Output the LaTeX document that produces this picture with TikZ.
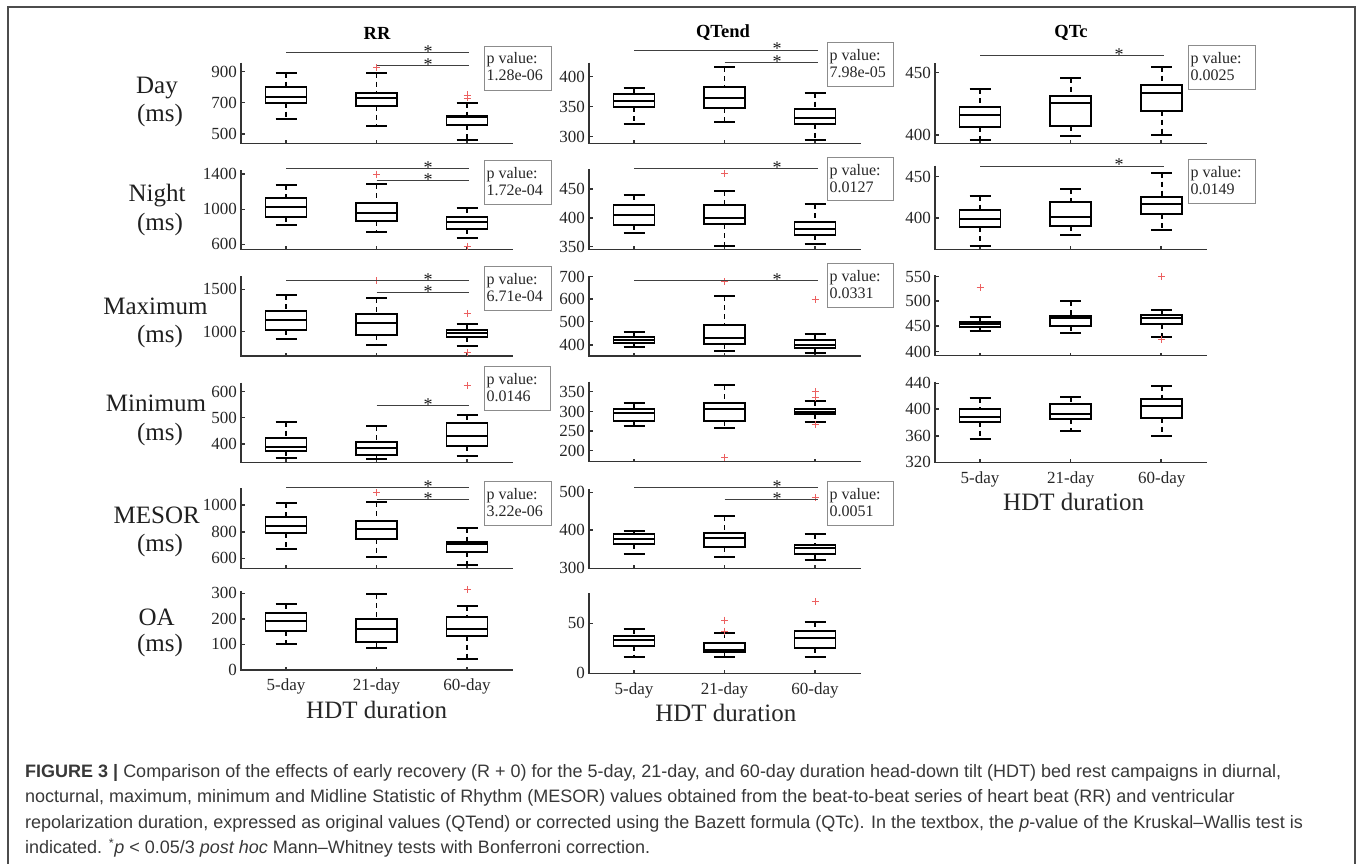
\documentclass[tikz,border=0pt]{standalone}
\usepackage{fontspec}
\setmainfont{Liberation Serif}
\newfontfamily\capfont{Liberation Sans}
\definecolor{outc}{RGB}{236,96,96}
\newcommand\bplot[6]{%
  \draw[whisk] (#1,#2) -- (#1,#3) (#1,#5) -- (#1,#6);
  \draw[capst] (#1-10.5,#2) -- (#1+10.5,#2) (#1-10.5,#6) -- (#1+10.5,#6);
  \draw[boxst] (#1-20.5,#3) rectangle (#1+20.5,#5);
  \draw[boxst] (#1-20.5,#4) -- (#1+20.5,#4);}
\newcommand\olr[2]{\draw[outl] (#1-3.5,#2) -- (#1+3.5,#2) (#1,#2-3.5) -- (#1,#2+3.5);}
\newcommand\yaxis[3]{% x0, ytop, ybot
  \draw[axisst] (#1,#2) -- (#1,#3) -- (#1+272,#3);
  \draw[axisst] (#1+45,#3) -- (#1+45,#3-3) (#1+135.5,#3) -- (#1+135.5,#3-3) (#1+226,#3) -- (#1+226,#3-3);}
\newcommand\ytk[3]{% x0, y, label
  \draw[axisst] (#1,#2) -- (#1+3.5,#2);
  \node[tick, anchor=east] at (#1-4,#2) {#3};}
\newcommand\pvbox[5]{% xl, width, top, bottom, value
  \draw[pb] (#1,#3) rectangle (#1+#2,#4);
  \node[ptxt, anchor=base west] at (#1+2,#3+18) {p value:};
  \node[ptxt, anchor=base west] at (#1+2,#3+35) {#5};}
\newcommand\sigbar[4]{% xs, xe, y, starx
  \draw[sigl] (#1,#3) -- (#2,#3);
  \node[starst, anchor=base] at (#4,#3+5) {*};}
\begin{document}
\begin{tikzpicture}[x=1pt,y=-1pt,
  axisst/.style={draw=black!80, line width=1.4pt},
  boxst/.style={draw=black, line width=1.7pt},
  capst/.style={draw=black, line width=1.7pt},
  whisk/.style={draw=black, line width=1.7pt, dash pattern=on 5pt off 4pt},
  outl/.style={draw=outc, line width=0.9pt},
  sigl/.style={draw=black!75, line width=0.9pt},
  pb/.style={draw=black!45, line width=0.9pt},
  tick/.style={font=\fontsize{17}{17}\selectfont, text=black!85, inner sep=0pt},
  ptxt/.style={font=\fontsize{16}{16}\selectfont, text=black!85, inner sep=0pt},
  starst/.style={font=\fontsize{18}{18}\selectfont, text=black!90, inner sep=0pt, text height=8pt, text depth=0pt},
  titlest/.style={font=\bfseries\fontsize{18.5}{18.5}\selectfont, inner sep=0pt},
  rowlab/.style={font=\fontsize{25}{25}\selectfont, text=black!88, inner sep=0pt, anchor=base},
  xlab/.style={font=\fontsize{17}{17}\selectfont, text=black!85, inner sep=0pt, anchor=base},
  hdt/.style={font=\fontsize{25}{25}\selectfont, text=black!85, inner sep=0pt, anchor=base},
  captxt/.style={font=\capfont\fontsize{18}{18}\selectfont, text=black!78, inner sep=0pt, anchor=base west}]
\useasboundingbox (0,0) rectangle (1357,864);
\draw[black!70, line width=1.2pt] (8,866) -- (8,7) -- (1355,7) -- (1355,866);

% titles
\node[titlest] (tRR) at (377,33) {RR};
\node[titlest] (tQT) at (723,33) {QTend};
\node[titlest] (tQC) at (1071,33) {QTc};

% row labels
\node[rowlab] (l1) at (157,93.3) {Day};
\node[rowlab] (l1b) at (160,121.7) {(ms)};
\node[rowlab] (l2) at (157,201.7) {Night};
\node[rowlab] (l2b) at (160,230) {(ms)};
\node[rowlab] (l3) at (155.5,314.3) {Maximum};
\node[rowlab] (l3b) at (160,342.5) {(ms)};
\node[rowlab] (l4) at (156,411.7) {Minimum};
\node[rowlab] (l4b) at (160,440) {(ms)};
\node[rowlab] (l5) at (156.7,523.3) {MESOR};
\node[rowlab] (l5b) at (160,551.7) {(ms)};
\node[rowlab] (l6) at (156.7,625) {OA};
\node[rowlab] (l6b) at (160,651) {(ms)};

%%%%%%%%%%%%%%%% Column 1: RR (axis x=241)
% Day
\yaxis{241}{62.7}{143.3}
\ytk{241}{71.7}{900}\ytk{241}{102.7}{700}\ytk{241}{134}{500}
\bplot{286}{72.7}{86.7}{97.3}{102.7}{119}
\bplot{376.5}{72.7}{92.7}{97.7}{106}{126}\olr{376.5}{67.7}
\bplot{467}{102.7}{115.7}{117.3}{125.3}{140}\olr{467}{95}\olr{467}{98}
\sigbar{286}{469}{52.7}{428}\sigbar{376.5}{469}{65.7}{428}
\pvbox{484.3}{67}{46}{90}{1.28e-06}
% Night
\yaxis{241}{170}{249.3}
\ytk{241}{174}{1400}\ytk{241}{209.3}{1000}\ytk{241}{244.3}{600}
\bplot{286}{185}{197.7}{206.7}{217.3}{225}
\bplot{376.5}{184.3}{202.7}{213.3}{221}{232.3}\olr{376.5}{174}
\bplot{467}{208.3}{217.3}{221.7}{229.3}{237.7}\olr{467}{246.3}
\sigbar{286}{469}{168.3}{428}\sigbar{376.5}{469}{180}{428}
\pvbox{484.3}{67}{160}{204}{1.72e-04}
% Maximum
\yaxis{241}{276}{356}
\ytk{241}{289.3}{1500}\ytk{241}{331.7}{1000}
\bplot{286}{295}{311}{319.7}{330}{339.3}
\bplot{376.5}{298.3}{314}{322.7}{334.7}{345}\olr{376.5}{280.7}
\bplot{467}{324.3}{330}{333.3}{337.3}{345.7}\olr{467}{313.3}\olr{467}{352.7}
\sigbar{286}{469}{280.7}{428}\sigbar{376.5}{469}{292.3}{428}
\pvbox{484.3}{67}{266.7}{310.7}{6.71e-04}
% Minimum
\yaxis{241}{382.7}{462.3}
\ytk{241}{391.7}{600}\ytk{241}{417.7}{500}\ytk{241}{444}{400}
\bplot{286}{421.7}{438.3}{446.7}{450.7}{458.3}
\bplot{376.5}{426}{441.7}{448.3}{455}{459}
\bplot{467}{415}{423.3}{436}{445.7}{456}\olr{467}{385.7}
\sigbar{376.5}{469}{405.7}{428}
\pvbox{484.3}{66}{366.7}{410.7}{0.0146}
% MESOR
\yaxis{241}{488.3}{568.3}
\ytk{241}{505}{1000}\ytk{241}{532}{800}\ytk{241}{558.3}{600}
\bplot{286}{503.3}{517.3}{526}{533.3}{549.3}
\bplot{376.5}{502.3}{521}{529}{538.7}{557}\olr{376.5}{492.7}
\bplot{467}{527.7}{541.7}{544.3}{552.3}{565}
\sigbar{286}{469}{487.3}{428}\sigbar{376.5}{469}{499.3}{428}
\pvbox{484.3}{67}{481.7}{525.7}{3.22e-06}
% OA
\yaxis{241}{590.7}{670}
\ytk{241}{593.3}{300}\ytk{241}{619}{200}\ytk{241}{644.3}{100}\ytk{241}{670}{0}
\bplot{286}{604.3}{612.7}{620.7}{631}{644}
\bplot{376.5}{594}{619.3}{628.7}{642.3}{647.7}
\bplot{467}{605.7}{617.3}{629.3}{635.7}{659.3}\olr{467}{589.3}
\node[xlab] (x11) at (286,690.7) {5-day};
\node[xlab] (x12) at (376.5,690.7) {21-day};
\node[xlab] (x13) at (467,690.7) {60-day};
\node[hdt] (h1) at (376.7,718.3) {HDT duration};

%%%%%%%%%%%%%%%% Column 2: QTend (axis x=589)
% Day
\yaxis{589}{62.7}{143.3}
\ytk{589}{76.7}{400}\ytk{589}{106.7}{350}\ytk{589}{136.7}{300}
\bplot{634}{87.7}{94}{100.7}{107.3}{124}
\bplot{724.5}{67.3}{86.7}{97.7}{108.3}{121.7}
\bplot{815}{92.7}{109}{118}{124}{140}
\sigbar{634}{817.5}{50}{777}\sigbar{724.5}{817.5}{62.3}{777}
\pvbox{827.3}{66}{42.7}{86.7}{7.98e-05}
% Night
\yaxis{589}{169.3}{249.3}
\ytk{589}{189}{450}\ytk{589}{217.8}{400}\ytk{589}{246.7}{350}
\bplot{634}{195}{205}{215}{225}{232.7}
\bplot{724.5}{191}{205}{217.7}{224.3}{246}\olr{724.5}{173.3}
\bplot{815}{204}{221.7}{229}{235}{244}
\sigbar{634}{817.5}{168.3}{777}
\pvbox{827.3}{66}{157.3}{200.7}{0.0127}
% Maximum
\yaxis{589}{276}{356}
\ytk{589}{276.7}{700}\ytk{589}{299}{600}\ytk{589}{321.7}{500}\ytk{589}{345}{400}
\bplot{634}{332.3}{336.7}{340}{343.3}{346.7}
\bplot{724.5}{296}{325}{338.3}{344}{351}\olr{724.5}{281.7}
\bplot{815}{334}{340}{345}{348.3}{353.3}\olr{815}{299.3}
\sigbar{634}{817.5}{280.7}{777}
\pvbox{827.3}{66}{263.3}{307.3}{0.0331}
% Minimum
\yaxis{589}{381.7}{461.7}
\ytk{589}{391.7}{350}\ytk{589}{411.7}{300}\ytk{589}{431}{250}\ytk{589}{450.7}{200}
\bplot{634}{403.3}{409.3}{413.3}{421}{425.7}
\bplot{724.5}{385}{402.7}{409.3}{421}{428.3}\olr{724.5}{457.3}
\bplot{815}{400.7}{409}{411.7}{414}{421.7}\olr{815}{391.7}\olr{815}{397.3}\olr{815}{424}
% MESOR
\yaxis{589}{489.3}{568.3}
\ytk{589}{492.3}{500}\ytk{589}{530}{400}\ytk{589}{568.3}{300}
\bplot{634}{531}{534.3}{539.3}{544.3}{554.3}
\bplot{724.5}{516}{533.3}{538.3}{546.7}{556.7}
\bplot{815}{534.3}{545}{548.3}{554.3}{560}\olr{815}{497.3}
\sigbar{634}{817.5}{487.3}{777}\sigbar{724.5}{817.5}{499.3}{777}
\pvbox{827.3}{66}{481.7}{525.7}{0.0051}
% OA
\yaxis{589}{593.3}{673.3}
\ytk{589}{623.3}{50}\ytk{589}{673.3}{0}
\bplot{634}{629.3}{636}{640}{645.7}{657.3}
\bplot{724.5}{633.3}{643.3}{650}{651.7}{657.3}\olr{724.5}{620}\olr{724.5}{631}
\bplot{815}{622.3}{630.7}{637.7}{648.3}{656.7}\olr{815}{601.7}
\node[xlab] (x21) at (634,694) {5-day};
\node[xlab] (x22) at (724.5,694) {21-day};
\node[xlab] (x23) at (815,694) {60-day};
\node[hdt] (h2) at (725.8,721.7) {HDT duration};

%%%%%%%%%%%%%%%% Column 3: QTc (axis x=935)
% Day
\yaxis{935}{63.3}{143.3}
\ytk{935}{72.7}{450}\ytk{935}{135}{400}
\bplot{980}{89.3}{106.7}{115}{126.7}{140}
\bplot{1070.7}{77.7}{95.7}{102.7}{125.7}{135.7}
\bplot{1161.7}{66.7}{85}{92.7}{110.7}{134.7}
\sigbar{980}{1163.5}{55.7}{1119}
\pvbox{1188.3}{66.7}{45.7}{89.3}{0.0025}
% Night
\yaxis{935}{165.7}{249.3}
\ytk{935}{176.7}{450}\ytk{935}{218}{400}
\bplot{980}{195.7}{210}{219}{227.3}{245.7}
\bplot{1070.7}{189}{202.3}{216.7}{225.7}{235}
\bplot{1161.7}{172.7}{197.3}{204}{214}{230}
\sigbar{980}{1163.5}{166}{1119}
\pvbox{1188.3}{66.7}{159.3}{203.3}{0.0149}
% Maximum
\yaxis{935}{275}{355.7}
\ytk{935}{276.7}{550}\ytk{935}{301}{500}\ytk{935}{326}{450}\ytk{935}{351.7}{400}
\bplot{980}{316.7}{321.7}{324.3}{327.3}{331}\olr{980}{287.7}
\bplot{1070.7}{301}{315.7}{318.3}{326}{332.7}
\bplot{1161.7}{310}{315}{317.7}{324.3}{336.7}\olr{1161.7}{276}\olr{1161.7}{339.3}
% Minimum
\yaxis{935}{381.7}{462.3}
\ytk{935}{383.3}{440}\ytk{935}{409}{400}\ytk{935}{436}{360}\ytk{935}{462.3}{320}
\bplot{980}{398.3}{409}{416.7}{421.7}{439}
\bplot{1070.7}{396.7}{404.3}{414.3}{419.3}{431}
\bplot{1161.7}{385.7}{399}{405.7}{417.7}{435.7}
\node[xlab] (x31) at (980,483.3) {5-day};
\node[xlab] (x32) at (1070.7,483.3) {21-day};
\node[xlab] (x33) at (1161.7,483.3) {60-day};
\node[hdt] (h3) at (1073.7,510.7) {HDT duration};

%%%%%%%%%%%%%%%% Caption
\node[captxt] (c1) at (25,777.3) {\textbf{FIGURE 3 |} Comparison of the effects of early recovery (R + 0) for the 5-day, 21-day, and 60-day duration head-down tilt (HDT) bed rest campaigns in diurnal,};
\node[captxt] (c2) at (25,802.3) {nocturnal, maximum, minimum and Midline Statistic of Rhythm (MESOR) values obtained from the beat-to-beat series of heart beat (RR) and ventricular};
\node[captxt] (c3) at (25,828.3) {repolarization duration, expressed as original values (QTend) or corrected using the Bazett formula (QTc). In the textbox, the \textit{p}-value of the Kruskal–Wallis test is};
\node[captxt] (c4) at (25,853.3) {indicated. \textsuperscript{*}\textit{p} < 0.05/3 \textit{post hoc} Mann–Whitney tests with Bonferroni correction.};
\end{tikzpicture}
\end{document}
